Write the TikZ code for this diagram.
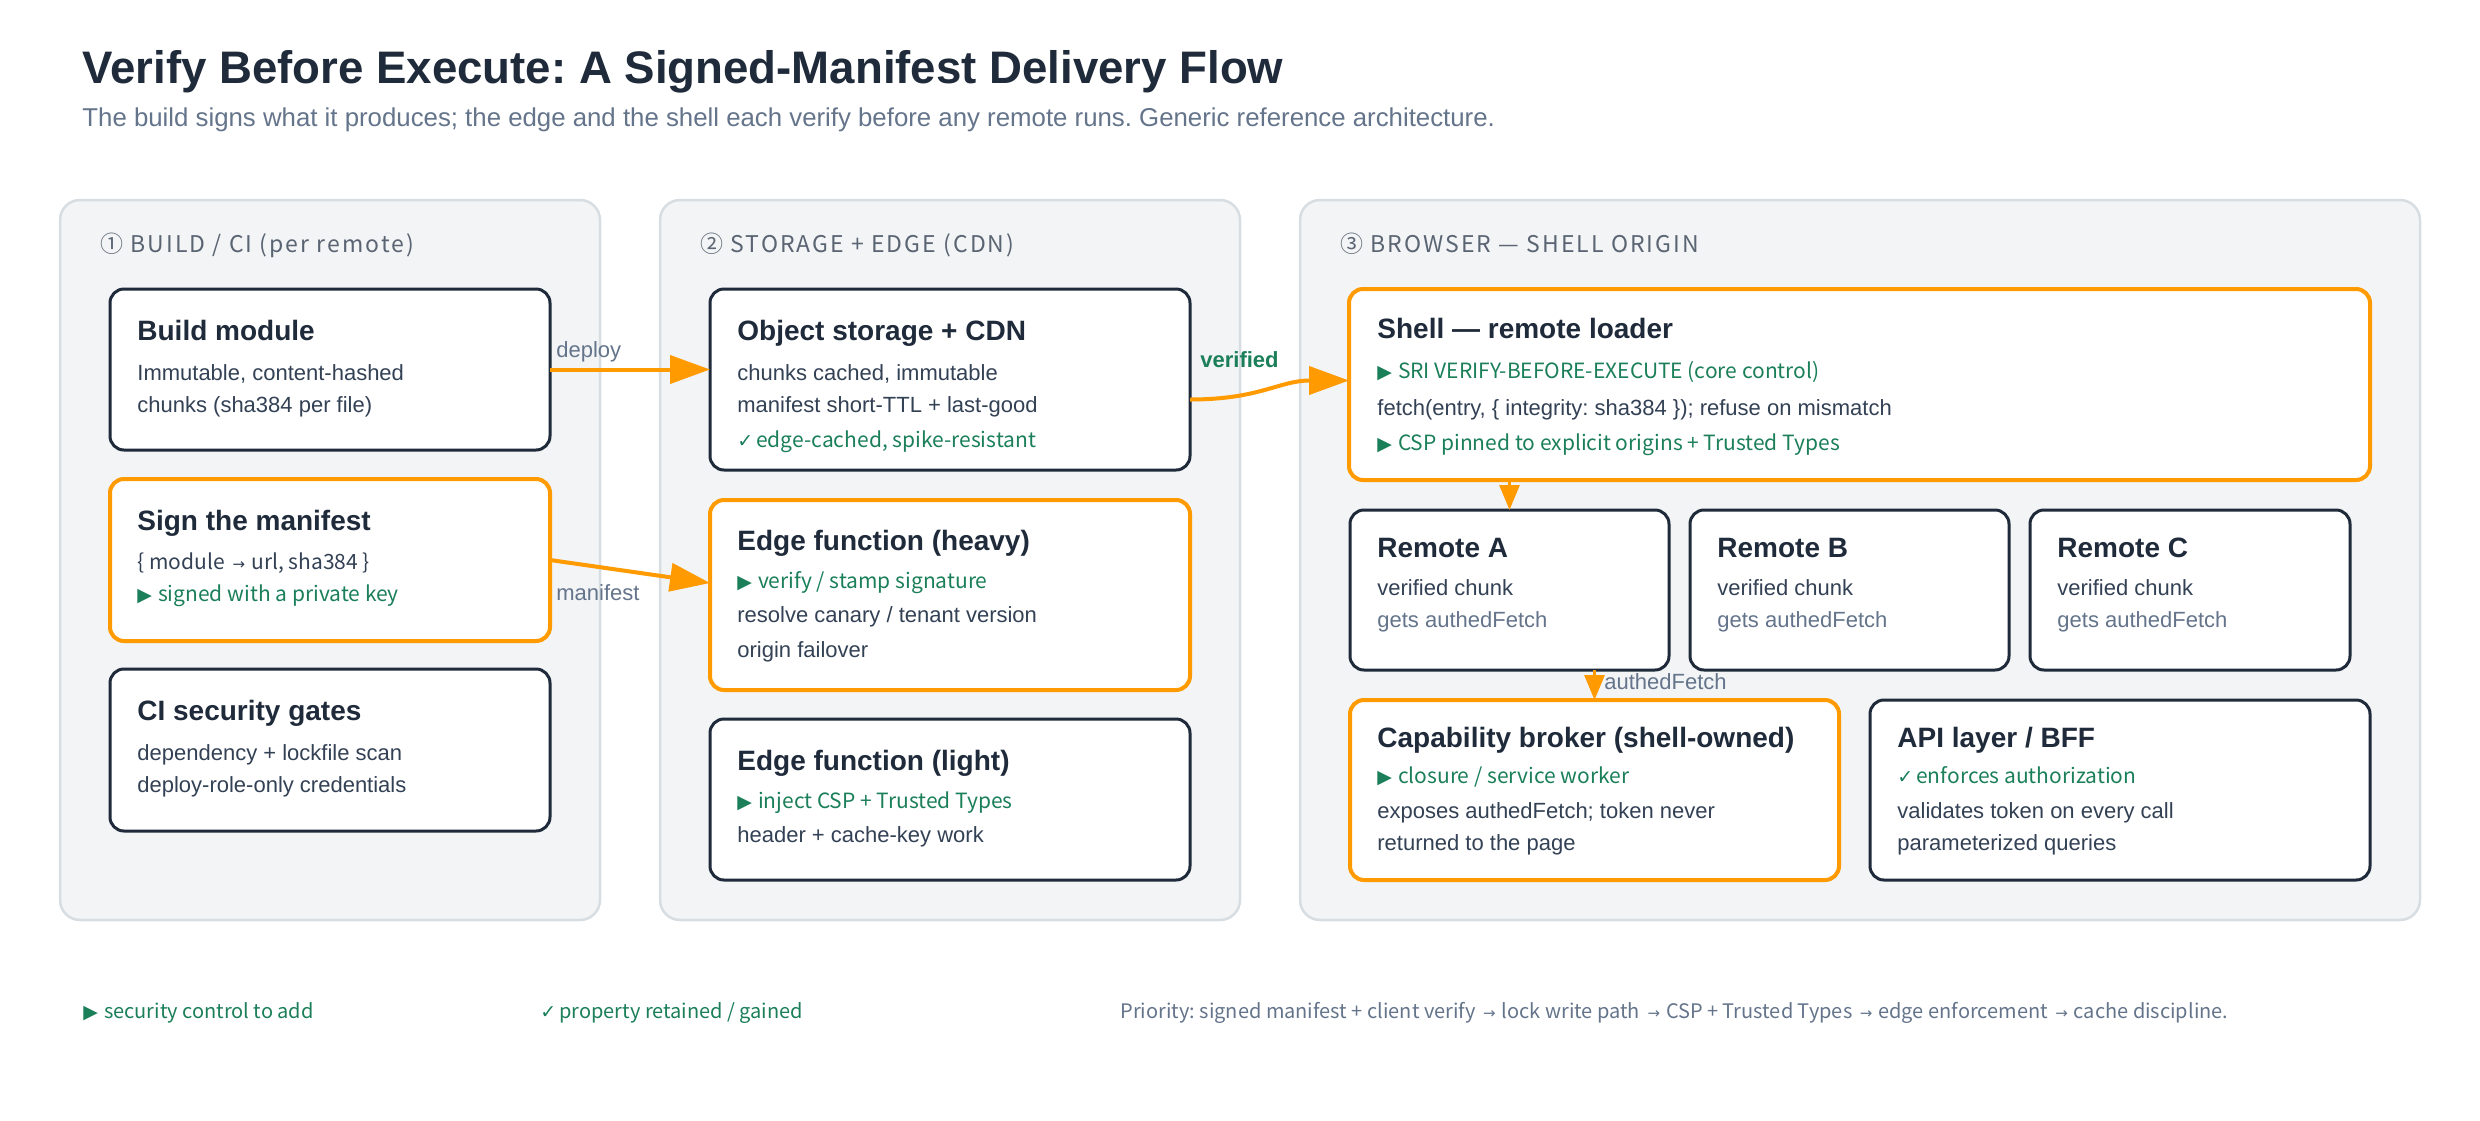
\documentclass[tikz,border=0pt]{standalone}
\usepackage{fontspec}
\setmainfont{Liberation Sans}
\newfontfamily\hum{Noto Sans CJK KR}
\newfontfamily\symf{DejaVu Sans}
\usetikzlibrary{arrows.meta,calc}
\definecolor{ink}{HTML}{1F2A3A}
\definecolor{bodyc}{HTML}{334155}
\definecolor{muted}{HTML}{64748B}
\definecolor{grn}{HTML}{1B7F5A}
\definecolor{org}{HTML}{FF9A00}
\definecolor{panelbg}{HTML}{F2F4F6}
\definecolor{panelln}{HTML}{D8DDE2}
\definecolor{hdr}{HTML}{5A6472}
\frenchspacing
\newcommand\tri{{\symf\fontsize{9.5}{9.5}\selectfont ▶}\hspace{3pt}}
\newcommand\chk{{\symf\fontsize{9.5}{9.5}\selectfont ✓}\hspace{1.5pt}}
\newcommand\arr{\hspace{0.15em}{\symf\fontsize{7.5}{7.5}\selectfont →}\hspace{0.3em}}
\newcommand\mkcard[6]{\node[#6, minimum width={(#4-#2)*0.5pt}, minimum height={(#5-#3)*0.5pt}] (#1) at ({(#2+#4)/2},{(#3+#5)/2}) {};}
\tikzset{
  x=0.5pt, y=-0.5pt,
  panel/.style={draw=panelln, line width=1.25pt, fill=panelbg, rounded corners=10pt, inner sep=0pt, outer sep=0pt},
  card/.style={draw=ink, line width=1.5pt, fill=white, rounded corners=7pt, inner sep=0pt, outer sep=0pt},
  hot/.style={card, draw=org, line width=2pt},
  ttl/.style={anchor=base west, inner sep=0pt, font=\fontsize{14}{16}\selectfont\bfseries, text=ink},
  txt/.style={anchor=base west, inner sep=0pt, font=\fontsize{11}{13}\selectfont, text=bodyc},
  dim/.style={txt, text=muted},
  ctl/.style={anchor=base west, inner sep=0pt, font=\hum\fontsize{10.5}{13}\selectfont, text=grn},
  humtxt/.style={ctl, text=bodyc},
  legs/.style={anchor=base west, inner sep=0pt, font=\hum\fontsize{10}{12}\selectfont, text=grn},
  hdrs/.style={anchor=base west, inner sep=0pt, font=\hum\fontsize{11.5}{13}\selectfont\addfontfeature{LetterSpace=9}, text=hdr},
  flow/.style={draw=org, line width=2pt, -{Triangle[length=20pt,width=14pt]}},
  flowsm/.style={draw=org, line width=1.5pt, -{Triangle[length=12.5pt,width=10pt]}},
}
\begin{document}
\begin{tikzpicture}
\fill[white] (0,0) rectangle (2480,1120);
\useasboundingbox (0,0) rectangle (2480,1120);

\node[anchor=base west, inner sep=0pt, font=\fontsize{22.8}{26}\selectfont\bfseries, text=ink] (title) at (82,83) {Verify Before Execute: A Signed-Manifest Delivery Flow};
\node[anchor=base west, inner sep=0pt, font=\fontsize{12.9}{15}\selectfont, text=muted] (subtitle) at (82,126) {The build signs what it produces; the edge and the shell each verify before any remote runs. Generic reference architecture.};

% panels
\mkcard{p1}{60}{200}{600}{920}{panel}
\mkcard{p2}{660}{200}{1240}{920}{panel}
\mkcard{p3}{1300}{200}{2420}{920}{panel}
\node[hdrs] (p1h) at (100,252) {① BUILD / CI (per remote)};
\node[hdrs] (p2h) at (700,252) {② STORAGE + EDGE (CDN)};
\node[hdrs] (p3h) at (1340,252) {③ BROWSER — SHELL ORIGIN};

% column 1
\mkcard{build}{110}{289}{550}{450}{card}
\node[ttl] (build-t) at (137,340) {Build module};
\node[txt] (build-1) at (137,380) {Immutable, content-hashed};
\node[txt] (build-2) at (137,412) {chunks (sha384 per file)};

\mkcard{sign}{110}{479}{550}{641}{hot}
\node[ttl] (sign-t) at (137,530) {Sign the manifest};
\node[humtxt] (sign-1) at (137,569) {\{ module \arr url, sha384 \}};
\node[ctl] (sign-2) at (137,601) {\tri signed with a private key};

\mkcard{ci}{110}{669}{550}{831}{card}
\node[ttl] (ci-t) at (137,720) {CI security gates};
\node[txt] (ci-1) at (137,760) {dependency + lockfile scan};
\node[txt] (ci-2) at (137,792) {deploy-role-only credentials};

% column 2
\mkcard{obj}{710}{289}{1190}{470}{card}
\node[ttl] (obj-t) at (737,340) {Object storage + CDN};
\node[txt] (obj-1) at (737,380) {chunks cached, immutable};
\node[txt] (obj-2) at (737,412) {manifest short-TTL + last-good};
\node[ctl] (obj-3) at (737,447) {\chk edge-cached, spike-resistant};

\mkcard{heavy}{710}{500}{1190}{690}{hot}
\node[ttl] (heavy-t) at (737,550) {Edge function (heavy)};
\node[ctl] (heavy-1) at (737,588) {\tri verify / stamp signature};
\node[txt] (heavy-2) at (737,622) {resolve canary / tenant version};
\node[txt] (heavy-3) at (737,657) {origin failover};

\mkcard{light}{710}{719}{1190}{880}{card}
\node[ttl] (light-t) at (737,770) {Edge function (light)};
\node[ctl] (light-1) at (737,808) {\tri inject CSP + Trusted Types};
\node[txt] (light-2) at (737,842) {header + cache-key work};

% column 3
\mkcard{shell}{1349}{289}{2370}{480}{hot}
\node[ttl] (shell-t) at (1377,338) {Shell — remote loader};
\node[ctl] (shell-1) at (1377,378) {\tri SRI VERIFY-BEFORE-EXECUTE (core control)};
\node[txt] (shell-2) at (1377,415) {fetch(entry, \{ integrity: sha384 \}); refuse on mismatch};
\node[ctl] (shell-3) at (1377,450) {\tri CSP pinned to explicit origins + Trusted Types};

\mkcard{remA}{1350}{510}{1669}{670}{card}
\node[ttl] (remA-t) at (1377,557) {Remote A};
\node[txt] (remA-1) at (1377,595) {verified chunk};
\node[dim] (remA-2) at (1377,627) {gets authedFetch};

\mkcard{remB}{1690}{510}{2009}{670}{card}
\node[ttl] (remB-t) at (1717,557) {Remote B};
\node[txt] (remB-1) at (1717,595) {verified chunk};
\node[dim] (remB-2) at (1717,627) {gets authedFetch};

\mkcard{remC}{2030}{510}{2350}{670}{card}
\node[ttl] (remC-t) at (2057,557) {Remote C};
\node[txt] (remC-1) at (2057,595) {verified chunk};
\node[dim] (remC-2) at (2057,627) {gets authedFetch};

\mkcard{broker}{1350}{700}{1839}{880}{hot}
\node[ttl] (broker-t) at (1377,747) {Capability broker (shell-owned)};
\node[ctl] (broker-1) at (1377,783) {\tri closure / service worker};
\node[txt] (broker-2) at (1377,818) {exposes authedFetch; token never};
\node[txt] (broker-3) at (1377,850) {returned to the page};

\mkcard{api}{1870}{700}{2370}{880}{card}
\node[ttl] (api-t) at (1897,747) {API layer / BFF};
\node[ctl] (api-1) at (1897,783) {\chk enforces authorization};
\node[txt] (api-2) at (1897,818) {validates token on every call};
\node[txt] (api-3) at (1897,850) {parameterized queries};

% connectors
\draw[flow] (build.east) -- (build.east -| obj.west);
\node[dim] (lbl-deploy) at (556,357) {deploy};
\draw[flow] (sign.east) -- ($(heavy.west)+(0,-12)$);
\node[dim] (lbl-manifest) at (556,600) {manifest};
\draw[flow] ($(obj.east)+(0,20)$) .. controls +(70,0) and +(-70,0) .. ($(shell.west)+(0,-4)$);
\node[anchor=base west, inner sep=0pt, font=\fontsize{11}{13}\selectfont\bfseries, text=grn] (lbl-verified) at (1200,367) {verified};
\draw[flowsm] (shell.south -| remA.north) -- (remA.north);
\draw[flowsm] (remA.south -| broker.north) -- (broker.north);
\node[dim] (lbl-authed) at (1604,689) {authedFetch};

% legend
\node[legs] (leg1) at (83,1018) {\tri security control to add};
\node[legs] (leg2) at (540,1018) {\chk property retained / gained};
\node[legs, text=muted] (leg3) at (1120,1018) {Priority: signed manifest + client verify \arr lock write path \arr CSP + Trusted Types \arr edge enforcement \arr cache discipline.};
\end{tikzpicture}
\end{document}
